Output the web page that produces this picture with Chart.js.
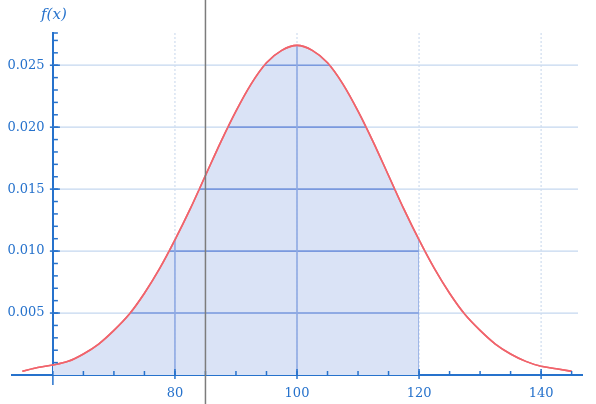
<!DOCTYPE html>
<html>
<head>
<meta charset="utf-8">
<script src="https://cdn.jsdelivr.net/npm/chart.js@4"></script>
<style>
  html, body { margin: 0; padding: 0; background: #fff; }
</style>
</head>
<body>
<canvas id="chart" width="596" height="404"></canvas>
<script>
// values
const xValues = [55, 57.5, 60, 62.5, 65, 67.5, 70, 72.5, 75, 77.5, 80, 82.5, 85, 87.5, 90, 92.5, 95, 97.5,
                 100, 102.5, 105, 107.5, 110, 112.5, 115, 117.5, 120, 122.5, 125, 127.5, 130, 132.5, 135,
                 137.5, 140, 142.5, 145];
const fValues = [0.0003, 0.0006, 0.0008, 0.0011, 0.0017, 0.0025, 0.0036, 0.0049, 0.0066, 0.0086, 0.0109,
                 0.0134, 0.0161, 0.0188, 0.0213, 0.0235, 0.0252, 0.0262, 0.0266, 0.0262, 0.0252, 0.0235,
                 0.0213, 0.0188, 0.0161, 0.0134, 0.0109, 0.0086, 0.0066, 0.0049, 0.0036, 0.0025, 0.0017,
                 0.0011, 0.0007, 0.0005, 0.0003];
const shadeFrom = 60;
const shadeTo = 120;
const markerX = 85;
const xTicks = [80, 100, 120, 140];
const yTicks = [0.005, 0.010, 0.015, 0.020, 0.025];
const yAxisAt = 60;

const axisColor = '#2672cc';
const labelFont = { family: '"DejaVu Serif"', size: 13 };

const curve = xValues.map((x, i) => ({x: x, y: fValues[i]}));
const shaded = curve.filter(p => p.x >= shadeFrom && p.x <= shadeTo);

const xMinor = [];
for (let v = 60; v <= 145; v += 5) xMinor.push(v);
const yMinor = [];
for (let k = 1; k <= 27; k++) yMinor.push(k / 1000);

function line(ctx, x1, y1, x2, y2) {
    ctx.beginPath();
    ctx.moveTo(x1, y1);
    ctx.lineTo(x2, y2);
    ctx.stroke();
}

function drawGrid(ctx, chart, hColor, vColor, dash) {
    const {chartArea: a, scales: {x, y}} = chart;
    const ax = x.getPixelForValue(yAxisAt);
    ctx.strokeStyle = hColor;
    yTicks.forEach(v => {
        const py = y.getPixelForValue(v);
        line(ctx, ax, py, a.right - 4, py);
    });
    ctx.strokeStyle = vColor;
    ctx.setLineDash(dash);
    xTicks.forEach(v => {
        const px = x.getPixelForValue(v);
        line(ctx, px, a.top, px, a.bottom);
    });
    ctx.setLineDash([]);
}

const extras = {
    id: 'extras',
    afterDatasetsDraw(chart) {
        const {ctx, chartArea: a, scales: {x, y}} = chart;
        const ax = x.getPixelForValue(yAxisAt);
        ctx.save();

        // light grid everywhere
        ctx.lineWidth = 1.2;
        drawGrid(ctx, chart, '#c4d7ef', '#cfdcef', [2, 2]);

        // darker grid where the area is shaded
        ctx.save();
        ctx.beginPath();
        chart.getDatasetMeta(1).dataset.path(ctx);
        ctx.lineTo(x.getPixelForValue(shadeTo), y.getPixelForValue(0));
        ctx.lineTo(x.getPixelForValue(shadeFrom), y.getPixelForValue(0));
        ctx.closePath();
        ctx.clip();
        ctx.lineWidth = 1.6;
        drawGrid(ctx, chart, '#7a99de', '#8ea9e3', []);
        ctx.restore();

        // curve again on top of grid
        chart.getDatasetMeta(0).dataset.draw(ctx, a);

        // small tick marks
        ctx.strokeStyle = axisColor;
        ctx.lineWidth = 1.5;
        xMinor.forEach(v => {
            const px = x.getPixelForValue(v);
            line(ctx, px, a.bottom, px, a.bottom - 4);
        });
        xTicks.forEach(v => {
            const px = x.getPixelForValue(v);
            line(ctx, px, a.bottom + 4, px, a.bottom - 6);
        });
        line(ctx, ax, a.bottom, ax, a.bottom + 10);
        yMinor.forEach(v => {
            const py = y.getPixelForValue(v);
            line(ctx, ax, py, ax + 5, py);
        });
        yTicks.forEach(v => {
            const py = y.getPixelForValue(v);
            line(ctx, ax - 3, py, ax + 7, py);
        });
        line(ctx, ax, a.top, ax + 5, a.top);

        // marker line
        const mx = x.getPixelForValue(markerX);
        ctx.strokeStyle = '#7c7c7c';
        ctx.lineWidth = 1.5;
        line(ctx, mx, 0, mx, chart.height);

        // axis name
        ctx.fillStyle = axisColor;
        ctx.font = 'italic 15px "DejaVu Serif"';
        ctx.textAlign = 'center';
        ctx.textBaseline = 'middle';
        ctx.fillText('f(x)', ax + 1, 15);
        ctx.restore();
    }
};

new Chart(document.getElementById('chart'), {
    type: 'line',
    data: {
        datasets: [{
            label: 'f(x)',
            data: curve,
            borderColor: '#f0646c',
            borderWidth: 1.6,
            pointRadius: 0,
            cubicInterpolationMode: 'monotone',
            fill: false
        }, {
            label: 'area',
            data: shaded,
            borderWidth: 0,
            borderColor: 'rgba(0,0,0,0)',
            backgroundColor: '#dae3f6',
            pointRadius: 0,
            cubicInterpolationMode: 'monotone',
            fill: 'origin'
        }]
    },
    options: {
        responsive: false,
        animation: false,
        layout: { padding: { left: 12, right: 14, top: 33, bottom: 2 } },
        plugins: { legend: { display: false }, tooltip: { enabled: false } },
        scales: {
            x: {
                type: 'linear',
                min: 53.3,
                max: 146.7,
                afterBuildTicks: scale => { scale.ticks = xTicks.map(v => ({value: v})); },
                afterFit: scale => { scale.height = 27; },
                grid: { display: false, drawTicks: false },
                border: { color: axisColor, width: 2 },
                ticks: {
                    color: axisColor,
                    padding: 11,
                    maxRotation: 0,
                    font: labelFont
                }
            },
            y: {
                type: 'linear',
                min: 0,
                max: 0.0276,
                position: { x: yAxisAt },
                afterBuildTicks: scale => { scale.ticks = yTicks.map(v => ({value: v})); },
                grid: { display: false, drawTicks: false },
                border: { color: axisColor, width: 2 },
                ticks: {
                    color: axisColor,
                    font: labelFont,
                    // labels sit right against an axis placed at a value, so pad with spaces
                    callback: v => v.toFixed(3) + '  '
                }
            }
        }
    },
    plugins: [extras]
});
</script>
</body>
</html>
